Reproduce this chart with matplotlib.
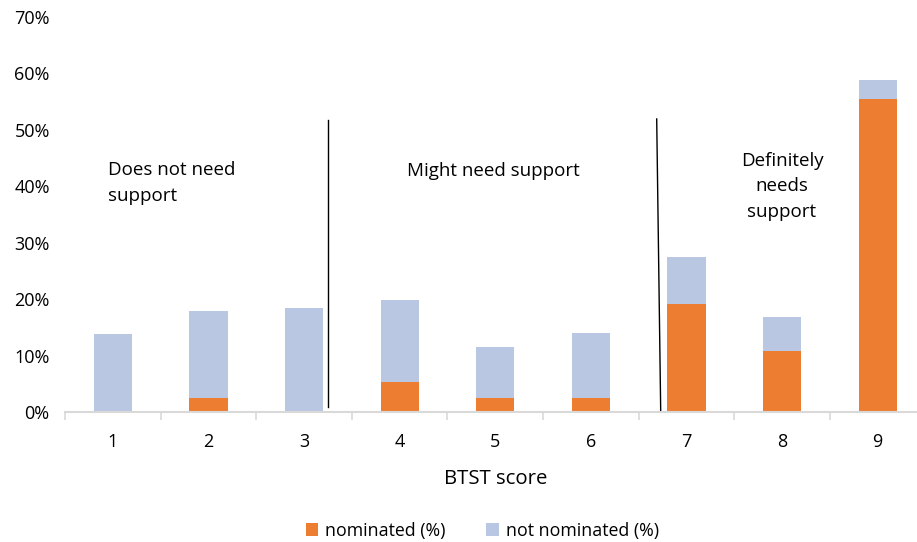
import matplotlib.pyplot as plt
import numpy as np

scores = ['1', '2', '3', '4', '5', '6', '7', '8', '9']
nominated = [0.0, 2.6, 0.0, 5.4, 2.6, 2.6, 19.2, 10.9, 55.4]
not_nominated = [13.9, 15.3, 18.5, 14.5, 9.0, 11.5, 8.2, 6.0, 3.4]
yticks = [0, 10, 20, 30, 40, 50, 60, 70]

plt.rcParams['font.family'] = ['Open Sans', 'DejaVu Sans']

fig = plt.figure(figsize=(9.17, 5.42), dpi=100)
ax = fig.add_axes([0.0709, 0.2393, 0.9383, 0.7299])

x = np.arange(1, len(scores) + 1)
ax.bar(x, nominated, width=0.4, color='#ED7D31', label='nominated (%)')
ax.bar(x, not_nominated, width=0.4, bottom=nominated, color='#B9C7E2',
       label='not nominated (%)')

ax.set_xlim(0.5, 9.5)
ax.set_ylim(0, 70)
ax.set_yticks(yticks)
ax.set_yticklabels([f'{v}%' for v in yticks], fontsize=13)
ax.set_xticks(x)
ax.set_xticklabels(scores, fontsize=13)
ax.set_xticks(np.arange(0.5, 9.6, 1), minor=True)
ax.tick_params(axis='x', which='major', length=0, pad=15)
ax.tick_params(axis='x', which='minor', length=6, color='#d9d9d9', width=1.2)
ax.tick_params(axis='y', length=0, pad=11)

for s in ['top', 'right', 'left']:
    ax.spines[s].set_visible(False)
ax.spines['bottom'].set_color('#d9d9d9')
ax.spines['bottom'].set_linewidth(1.5)

# group dividers
ax.plot([3.248, 3.248], [0.9, 51.7], color='black', lw=1)
ax.plot([6.689, 6.731], [51.9, 0.1], color='black', lw=1)

ax.text(0.95, 40.6, 'Does not need\nsupport', fontsize=13.5, ha='left', va='center',
        linespacing=1.55)
ax.text(4.98, 42.7, 'Might need support', fontsize=13.5, ha='center', va='center')
ax.text(8.0, 40.0, 'Definitely\nneeds\nsupport', fontsize=13.5, ha='center',
        va='center', linespacing=1.55)

ax.set_xlabel('BTST score', fontsize=14.7, labelpad=13)

fig.legend(loc='lower center', bbox_to_anchor=(0.526, -0.025), ncol=2, frameon=False,
           fontsize=12.8, handlelength=0.7, handleheight=0.7, columnspacing=2.3,
           handletextpad=0.4)

fig.savefig('out.png', dpi=100)
